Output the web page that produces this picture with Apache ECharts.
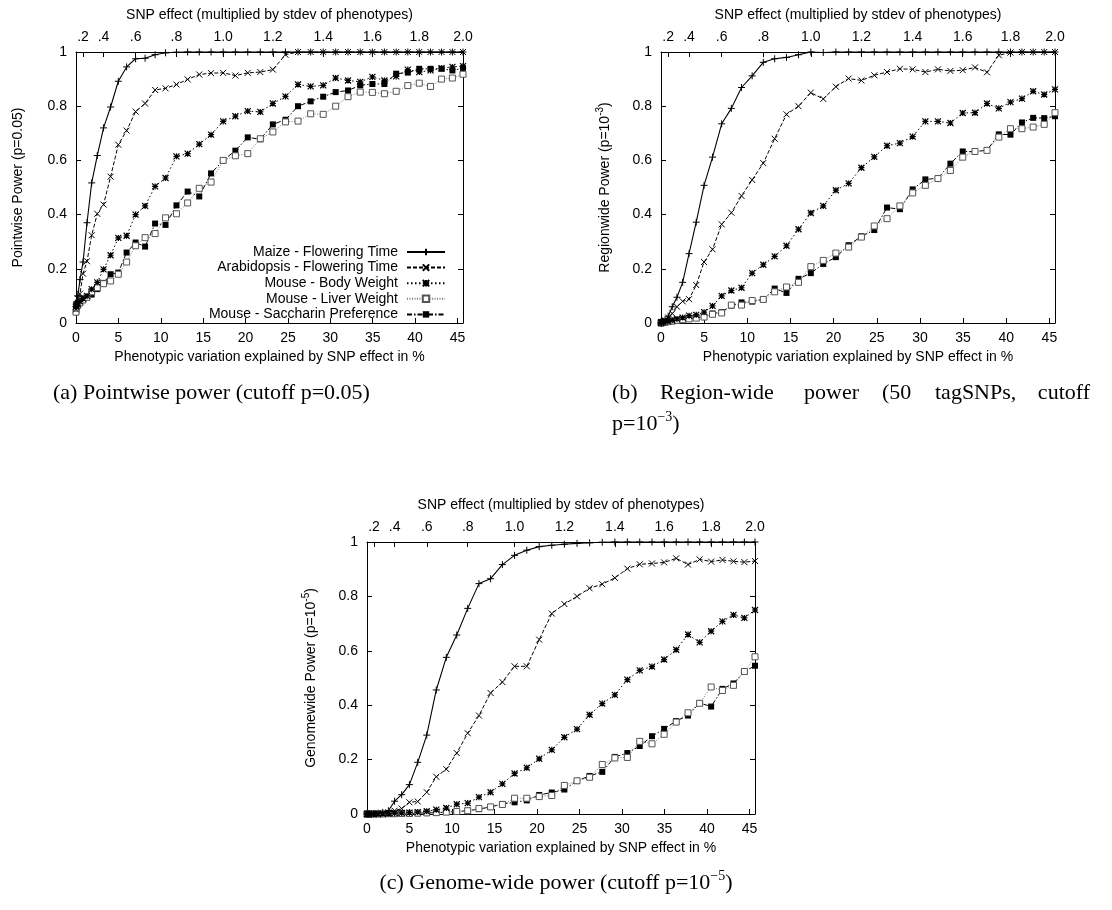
<!DOCTYPE html>
<html>
<head>
<meta charset="utf-8">
<script src="https://cdn.jsdelivr.net/npm/echarts@6/dist/echarts.min.js"></script>
<style>
html,body{margin:0;padding:0;background:#fff;}
#chart{width:1112px;height:910px;}
</style>
</head>
<body>
<div id="chart"></div>
<script>
// ---------- DATA ----------
// x positions: phenotypic variation explained (%) for SNP effects 0, 0.05, ..., 2.0
const xPct = [0, 0.05, 0.21, 0.47, 0.83, 1.30, 1.85, 2.51, 3.25, 4.08, 4.99, 5.97, 7.03, 8.15, 9.33, 10.56, 11.85, 13.17, 14.54, 15.93, 17.36, 18.80, 20.26, 21.74, 23.22, 24.71, 26.19, 27.68, 29.16, 30.63, 32.09, 33.53, 34.96, 36.38, 37.77, 39.14, 40.49, 41.82, 43.12, 44.40, 45.65];

// top axis (SNP effect) tick positions in % and their labels
const topTickPct = [0.83, 3.25, 7.03, 11.85, 17.36, 23.22, 29.16, 34.96, 40.49, 45.65];
const topTickLabels = ['.2', '.4', '.6', '.8', '1.0', '1.2', '1.4', '1.6', '1.8', '2.0'];

const seriesNames = ['Maize - Flowering Time', 'Arabidopsis - Flowering Time', 'Mouse - Body Weight', 'Mouse - Liver Weight', 'Mouse - Saccharin Preference'];

// (a) Pointwise power
const maizeA = [0.06, 0.07, 0.10, 0.16, 0.225, 0.37, 0.517, 0.618, 0.72, 0.797, 0.892, 0.945, 0.975, 0.977, 0.99, 0.997, 0.999, 1, 1, 1, 1, 1, 1, 1, 1, 1, 1, 1, 1, 1, 1, 1, 1, 1, 1, 1, 1, 1, 1, 1, 1];
const arabA = [0.05, 0.07, 0.09, 0.108, 0.182, 0.228, 0.324, 0.403, 0.437, 0.54, 0.658, 0.71, 0.78, 0.81, 0.86, 0.866, 0.88, 0.899, 0.917, 0.922, 0.923, 0.913, 0.923, 0.926, 0.935, 0.99, 1, 1, 1, 1, 1, 1, 1, 1, 1, 1, 1, 1, 1, 1, 1];
const bodyA = [0.06, 0.065, 0.07, 0.08, 0.09, 0.10, 0.125, 0.15, 0.198, 0.25, 0.314, 0.322, 0.40, 0.432, 0.504, 0.535, 0.615, 0.625, 0.66, 0.695, 0.744, 0.763, 0.782, 0.779, 0.81, 0.836, 0.88, 0.873, 0.877, 0.904, 0.895, 0.89, 0.908, 0.895, 0.91, 0.935, 0.926, 0.932, 0.94, 0.945, 0.948];
const liverA = [0.04, 0.055, 0.065, 0.075, 0.085, 0.095, 0.115, 0.13, 0.145, 0.155, 0.18, 0.225, 0.285, 0.315, 0.33, 0.388, 0.403, 0.443, 0.497, 0.52, 0.60, 0.617, 0.625, 0.68, 0.705, 0.742, 0.745, 0.772, 0.77, 0.80, 0.835, 0.852, 0.851, 0.846, 0.855, 0.876, 0.885, 0.873, 0.90, 0.904, 0.918];
const sacchA = [0.055, 0.065, 0.075, 0.08, 0.09, 0.095, 0.105, 0.125, 0.148, 0.18, 0.186, 0.26, 0.297, 0.282, 0.367, 0.362, 0.434, 0.485, 0.467, 0.552, 0.60, 0.636, 0.685, 0.678, 0.733, 0.75, 0.80, 0.818, 0.835, 0.852, 0.858, 0.877, 0.882, 0.882, 0.92, 0.924, 0.938, 0.938, 0.938, 0.932, 0.94];

// (b) Region-wide power
const maizeB = [0, 0, 0.005, 0.01, 0.025, 0.06, 0.095, 0.15, 0.256, 0.372, 0.508, 0.612, 0.735, 0.792, 0.869, 0.912, 0.962, 0.975, 0.98, 0.99, 1, 0.998, 1, 1, 1, 1, 1, 1, 1, 1, 1, 1, 1, 1, 1, 1, 1, 1, 1, 1, 1];
const arabB = [0, 0, 0.003, 0.01, 0.02, 0.035, 0.06, 0.08, 0.088, 0.14, 0.225, 0.272, 0.364, 0.407, 0.469, 0.528, 0.59, 0.68, 0.77, 0.80, 0.85, 0.827, 0.872, 0.902, 0.895, 0.914, 0.926, 0.938, 0.936, 0.926, 0.936, 0.93, 0.933, 0.943, 0.925, 0.988, 0.998, 1, 1, 1, 1];
const bodyB = [0.002, 0.003, 0.005, 0.006, 0.008, 0.01, 0.015, 0.02, 0.027, 0.03, 0.04, 0.063, 0.10, 0.12, 0.13, 0.184, 0.215, 0.246, 0.285, 0.346, 0.406, 0.432, 0.49, 0.515, 0.573, 0.613, 0.654, 0.664, 0.688, 0.744, 0.744, 0.738, 0.775, 0.776, 0.81, 0.792, 0.815, 0.828, 0.855, 0.843, 0.862];
const liverB = [0, 0, 0.002, 0.003, 0.005, 0.007, 0.01, 0.012, 0.015, 0.018, 0.022, 0.032, 0.037, 0.066, 0.066, 0.083, 0.087, 0.115, 0.133, 0.15, 0.208, 0.231, 0.258, 0.28, 0.317, 0.358, 0.385, 0.432, 0.48, 0.508, 0.533, 0.563, 0.612, 0.633, 0.637, 0.686, 0.717, 0.717, 0.723, 0.733, 0.776];
const sacchB = [0, 0, 0.002, 0.003, 0.005, 0.007, 0.01, 0.012, 0.015, 0.02, 0.022, 0.035, 0.04, 0.064, 0.076, 0.079, 0.087, 0.127, 0.111, 0.163, 0.184, 0.218, 0.243, 0.287, 0.32, 0.343, 0.426, 0.42, 0.493, 0.53, 0.534, 0.588, 0.633, 0.632, 0.638, 0.696, 0.695, 0.74, 0.757, 0.756, 0.763];

// (c) Genome-wide power
const maizeC = [0, 0, 0, 0, 0.002, 0.003, 0.006, 0.012, 0.047, 0.071, 0.108, 0.19, 0.29, 0.456, 0.576, 0.658, 0.756, 0.847, 0.865, 0.917, 0.951, 0.97, 0.983, 0.988, 0.992, 0.995, 0.997, 0.999, 1, 1, 1, 1, 1, 1, 1, 1, 1, 1, 1, 1, 1];
const arabC = [0, 0, 0, 0, 0, 0.001, 0.003, 0.006, 0.012, 0.02, 0.043, 0.046, 0.08, 0.137, 0.165, 0.224, 0.297, 0.362, 0.445, 0.485, 0.543, 0.543, 0.641, 0.737, 0.772, 0.80, 0.83, 0.845, 0.868, 0.902, 0.918, 0.921, 0.925, 0.94, 0.917, 0.936, 0.928, 0.934, 0.929, 0.926, 0.93];
const bodyC = [0, 0, 0, 0, 0, 0.001, 0.001, 0.002, 0.003, 0.004, 0.005, 0.007, 0.01, 0.016, 0.022, 0.036, 0.04, 0.062, 0.08, 0.111, 0.149, 0.17, 0.203, 0.236, 0.282, 0.312, 0.365, 0.406, 0.438, 0.494, 0.528, 0.542, 0.568, 0.604, 0.66, 0.631, 0.672, 0.708, 0.732, 0.721, 0.75];
const liverC = [0, 0, 0, 0, 0, 0, 0, 0.001, 0.001, 0.002, 0.002, 0.003, 0.004, 0.005, 0.007, 0.009, 0.012, 0.02, 0.026, 0.035, 0.058, 0.058, 0.064, 0.068, 0.105, 0.122, 0.135, 0.182, 0.206, 0.208, 0.267, 0.258, 0.293, 0.338, 0.372, 0.407, 0.467, 0.454, 0.473, 0.524, 0.578];
const sacchC = [0, 0, 0, 0, 0, 0, 0, 0.001, 0.001, 0.002, 0.002, 0.003, 0.004, 0.005, 0.007, 0.009, 0.012, 0.018, 0.026, 0.037, 0.043, 0.05, 0.07, 0.079, 0.09, 0.122, 0.14, 0.155, 0.21, 0.224, 0.25, 0.286, 0.313, 0.342, 0.362, 0.408, 0.395, 0.46, 0.48, 0.524, 0.545];

const panelData = [
  [maizeA, arabA, bodyA, liverA, sacchA],
  [maizeB, arabB, bodyB, liverB, sacchB],
  [maizeC, arabC, bodyC, liverC, sacchC]
];

// ---------- STYLE ----------
const SANS = 'Liberation Sans';
const SERIF = 'Liberation Serif';
const PLUS = 'path://M5,0L5,10M0,5L10,5';
const CROSS = 'path://M0,0L10,10M10,0L0,10';
const STAR = 'path://M0,0L10,10M10,0L0,10M5,0L5,10M0,5L10,5';

const seriesStyles = [
  { symbol: PLUS, size: 7, line: { color: '#000', type: 'solid', width: 1.1 }, item: { color: '#000', borderColor: '#000', borderWidth: 1 } },
  { symbol: CROSS, size: 6, line: { color: '#000', type: [4, 2], width: 1 }, item: { color: '#000', borderColor: '#000', borderWidth: 1 } },
  { symbol: STAR, size: 6, line: { color: '#000', type: [1.5, 2.5], width: 1 }, item: { color: '#000', borderColor: '#000', borderWidth: 1.2 } },
  { symbol: 'rect', size: 6, line: { color: '#7a7a7a', type: [1, 1.5], width: 1 }, item: { color: '#fff', borderColor: '#555', borderWidth: 1 } },
  { symbol: 'rect', size: 6, line: { color: '#000', type: [5, 2, 1.5, 2], width: 1 }, item: { color: '#000', borderColor: '#000', borderWidth: 0 } }
];

const grids = [
  { left: 76, top: 52, width: 387, height: 271 },
  { left: 661, top: 52, width: 394, height: 271 },
  { left: 367, top: 542, width: 388, height: 272 }
];

const txt = { fontSize: 14, color: '#000', fontFamily: SANS };
const axLine = { show: true, onZero: false, lineStyle: { color: '#000', width: 1 } };

function bottomX(g) {
  return {
    type: 'value', gridIndex: g, position: 'bottom', min: 0, max: 45.65, interval: 5,
    name: 'Phenotypic variation explained by SNP effect in %', nameLocation: 'middle', nameGap: 27,
    nameMoveOverlap: false, nameTextStyle: txt,
    axisLine: axLine,
    axisTick: { show: true, inside: true, length: 5, lineStyle: { color: '#000' } },
    axisLabel: Object.assign({ margin: 8, showMaxLabel: true, formatter: v => (Math.abs(v % 5) < 1e-9 ? String(v) : '') }, txt),
    splitLine: { show: false }
  };
}
function topX(g) {
  return {
    type: 'value', gridIndex: g, position: 'top', min: 0, max: 45.65,
    name: 'SNP effect (multiplied by stdev of phenotypes)', nameLocation: 'middle', nameGap: 30,
    nameMoveOverlap: false, nameTextStyle: txt,
    axisLine: axLine,
    axisTick: { show: true, inside: true, length: 5, customValues: topTickPct, lineStyle: { color: '#000' } },
    axisLabel: Object.assign({
      margin: 8, customValues: topTickPct,
      formatter: v => { const i = topTickPct.findIndex(p => Math.abs(p - v) < 1e-6); return i >= 0 ? topTickLabels[i] : ''; }
    }, txt),
    splitLine: { show: false }
  };
}
const richName = {
  n: { fontSize: 14, color: '#000', fontFamily: SANS, lineHeight: 17, verticalAlign: 'bottom' },
  s: { fontSize: 10, color: '#000', fontFamily: SANS, lineHeight: 10, verticalAlign: 'top' }
};
function leftY(g, name, gap) {
  return {
    type: 'value', gridIndex: g, position: 'left', min: 0, max: 1, interval: 0.2,
    name: name, nameLocation: 'middle', nameRotate: 90, nameGap: gap, nameMoveOverlap: false,
    nameTextStyle: Object.assign({ rich: richName }, txt),
    axisLine: axLine,
    axisTick: { show: true, inside: true, length: 5, lineStyle: { color: '#000' } },
    axisLabel: Object.assign({ margin: 9 }, txt),
    splitLine: { show: false }
  };
}
function rightY(g) {
  return {
    type: 'value', gridIndex: g, position: 'right', min: 0, max: 1, interval: 0.2,
    axisLine: axLine,
    axisTick: { show: true, inside: true, length: 5, lineStyle: { color: '#000' } },
    axisLabel: { show: false },
    splitLine: { show: false }
  };
}

const xAxes = [], yAxes = [];
const yNames = [
  '{n|Pointwise Power (p=0.05)}',
  '{n|Regionwide Power (p=10}{s|-3}{n|)}',
  '{n|Genomewide Power (p=10}{s|-5}{n|)}'
];
const yGaps = [51, 49, 49];
for (let g = 0; g < 3; g++) {
  xAxes.push(bottomX(g), topX(g));
  yAxes.push(leftY(g, yNames[g], yGaps[g]), rightY(g));
}

const series = [];
for (let p = 0; p < 3; p++) {
  for (let s = 0; s < 5; s++) {
    const st = seriesStyles[s];
    series.push({
      type: 'line', name: seriesNames[s], xAxisIndex: p * 2, yAxisIndex: p * 2,
      data: xPct.map((x, i) => [x, panelData[p][s][i]]),
      symbol: st.symbol, symbolSize: st.size, showSymbol: true, showAllSymbol: true,
      lineStyle: st.line, itemStyle: st.item,
      z: 10 - s, silent: true, animation: false, clip: false
    });
  }
}

const capRich = {
  n: { fontSize: 22, fontFamily: SERIF, color: '#000', lineHeight: 25, verticalAlign: 'bottom' },
  s: { fontSize: 14, fontFamily: SERIF, color: '#000', lineHeight: 14, verticalAlign: 'top' }
};
function capText(x, y, text, align) {
  return { type: 'text', x: x, y: y, silent: true,
    style: { text: text, rich: capRich, align: align || 'left', verticalAlign: 'middle' } };
}

const option = {
  backgroundColor: '#fff',
  animation: false,
  textStyle: { fontFamily: SANS },
  grid: grids.map(g => Object.assign({ show: false, containLabel: false, outerBoundsMode: 'none' }, g)),
  xAxis: xAxes,
  yAxis: yAxes,
  legend: {
    data: seriesNames, orient: 'vertical', align: 'right', right: 666, top: 245,
    padding: 0, itemGap: 1.6, itemWidth: 38, itemHeight: 8,
    textStyle: { fontSize: 14, color: '#000', fontFamily: SANS, padding: [0, 4, 0, 0] },
    selectedMode: false, inactiveColor: '#000'
  },
  series: series,
  graphic: [
    capText(53, 392, '{n|(a) Pointwise power (cutoff p=0.05)}'),
    capText(612, 392, '{n|(b)}'),
    capText(660, 392, '{n|Region-wide}'),
    capText(804, 392, '{n|power}'),
    capText(882, 392, '{n|(50}'),
    capText(935, 392, '{n|tagSNPs,}'),
    capText(1090, 392, '{n|cutoff}', 'right'),
    capText(612, 423, '{n|p=10}{s|\u22123}{n|)}'),
    capText(556, 882, '{n|(c) Genome-wide power (cutoff p=10}{s|\u22125}{n|)}', 'center')
  ]
};

const chart = echarts.init(document.getElementById('chart'), null, { renderer: 'canvas' });
chart.setOption(option);
</script>
</body>
</html>
